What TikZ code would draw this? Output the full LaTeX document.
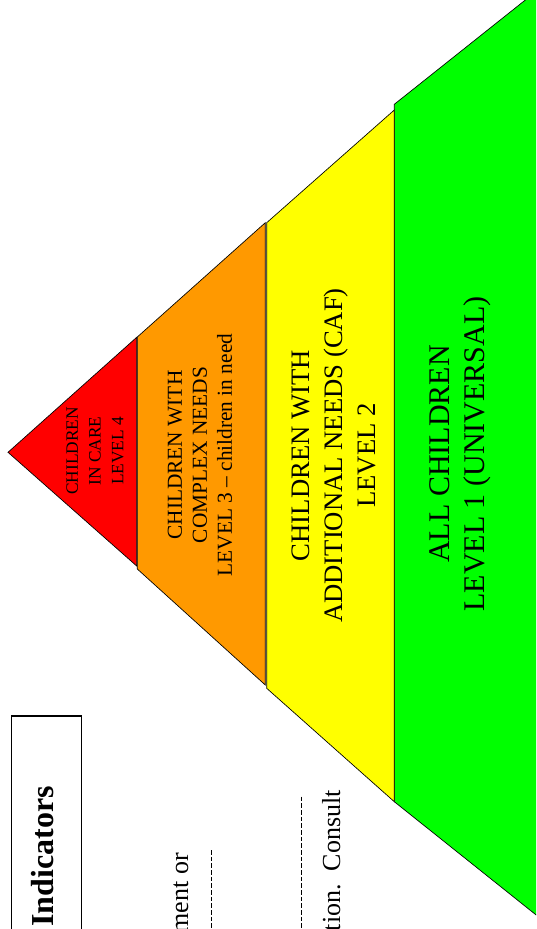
\documentclass[tikz,border=0pt]{standalone}
\usepackage{fontspec}
\setmainfont{Liberation Serif}
\definecolor{lvred}{HTML}{FF0000}
\definecolor{lvorange}{HTML}{FF9900}
\definecolor{lvyellow}{HTML}{FFFF00}
\definecolor{lvgreen}{HTML}{00FF00}
\begin{document}
\begin{tikzpicture}[x=0.75pt,y=-0.75pt,
  tier/.style={draw=black, line width=0.5pt, line join=miter},
  lbl/.style={rotate=90, align=center, inner sep=0pt, text=black},
  sidetext/.style={rotate=90, inner sep=0pt, anchor=base east, text=black, font=\fontsize{19.5pt}{23pt}\selectfont},
  rule/.style={draw=black, line width=1pt, dash pattern=on 3.5pt off 1.5pt}]
\useasboundingbox (0,0) rectangle (536,929);
\begin{scope}
\clip (0,0) rectangle (536,929);
% pyramid tiers
\path[tier, fill=lvgreen] (394.3,104.3) -- (580,-43.5) -- (580,950) -- (394.3,801.7) -- cycle;
\path[tier, fill=lvyellow] (266.7,222.7) -- (394.3,110) -- (394.3,801.7) -- (266.7,688.3) -- cycle;
\path[tier, fill=lvorange] (137.3,337) -- (265.3,222.7) -- (265.3,685) -- (137.3,569) -- cycle;
\path[tier, fill=lvred] (8,452.3) -- (136.7,337.3) -- (136.7,566) -- cycle;
% left page fragment
\draw[line width=1pt] (11.7,945) -- (11.7,716) -- (81.7,716) -- (81.7,945);
\coordinate (r1a) at (211.7,850);
\coordinate (r1b) at (211.7,940);
\coordinate (r2a) at (301.7,796.7);
\coordinate (r2b) at (301.7,940);
\draw[rule] (r1a) -- (r1b);
\draw[rule] (r2a) -- (r2b);
\node[sidetext, font=\fontsize{24pt}{28pt}\selectfont\bfseries] (ind) at (53.3,786) {Indicators};
\node[sidetext] (ment) at (188,853) {ment or};
\node[sidetext] (cons) at (340,790) {tion.\ \ Consult};
\end{scope}
% tier labels
\node[lbl, font=\fontsize{13pt}{17pt}\selectfont] (t4) at (95,451) {CHILDREN\\IN CARE\\LEVEL 4};
\node[lbl, font=\fontsize{16pt}{18.75pt}\selectfont] (t3) at (200,455) {CHILDREN WITH\\COMPLEX NEEDS\\LEVEL 3 – children in need};
\node[lbl, font=\fontsize{20pt}{25pt}\selectfont] (t2) at (334,455.5) {CHILDREN WITH\\ADDITIONAL NEEDS (CAF)\\LEVEL 2};
\node[lbl, font=\fontsize{22.5pt}{26.25pt}\selectfont] (t1) at (460,454) {ALL CHILDREN\\LEVEL 1 (UNIVERSAL)};
\end{tikzpicture}
\end{document}
